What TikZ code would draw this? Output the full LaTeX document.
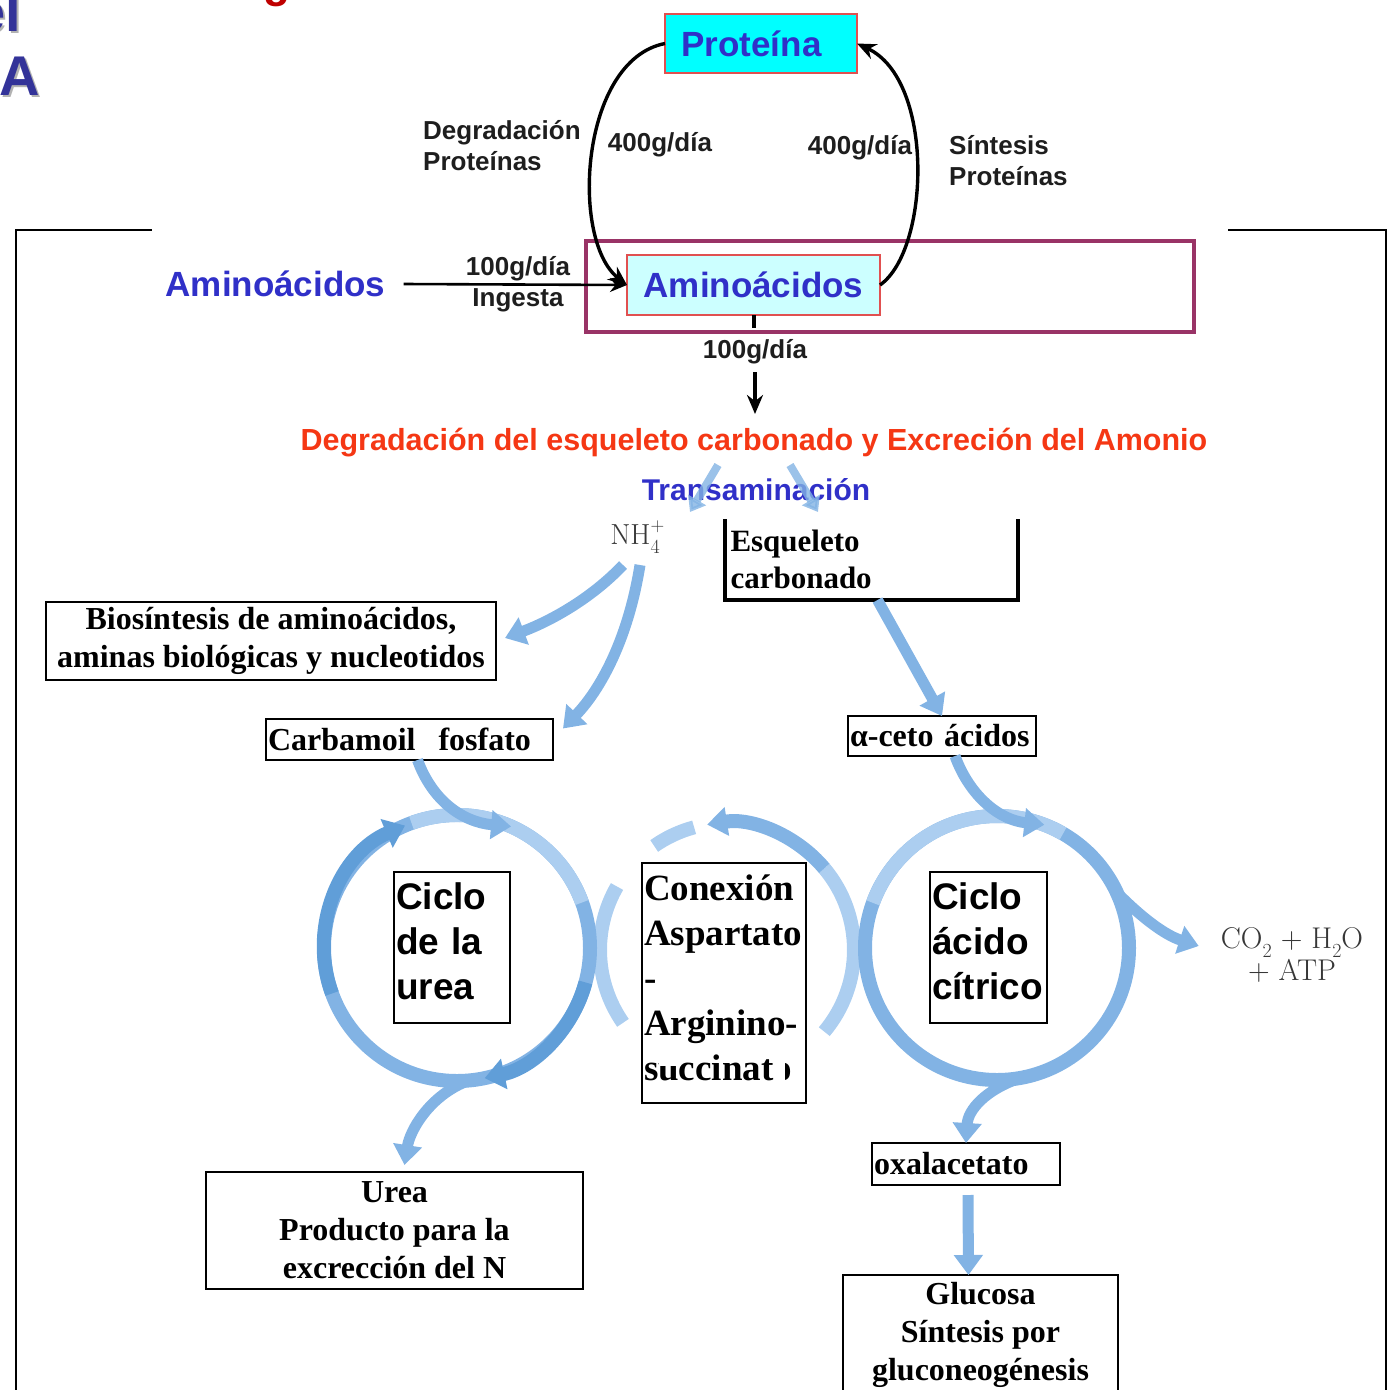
\documentclass[tikz,border=0pt]{standalone}
\usepackage[no-math]{fontspec}
\newfontfamily\arialfont{Liberation Sans}
\newfontfamily\timesfont{Liberation Serif}
\usetikzlibrary{arrows.meta,calc}

\definecolor{titleblue}{RGB}{51,51,153}
\definecolor{labelblue}{RGB}{48,48,200}
\definecolor{headred}{RGB}{245,55,20}
\definecolor{protcyan}{RGB}{0,255,255}
\definecolor{aacyan}{RGB}{204,255,255}
\definecolor{boxred}{RGB}{225,80,80}
\definecolor{frameplum}{RGB}{153,51,102}
\definecolor{flowlight}{RGB}{172,206,240}
\definecolor{flowmid}{RGB}{130,179,228}
\definecolor{flowdark}{RGB}{96,158,216}
\definecolor{labelgray}{RGB}{30,30,30}
\definecolor{chemgray}{RGB}{55,55,55}

\newcommand\chemsub[1]{\raisebox{-0.3em}{\fontsize{20}{20}\selectfont #1}}
\newcommand\chemsup[1]{\raisebox{0.45em}{\fontsize{19}{19}\selectfont #1}}

\begin{document}
\begin{tikzpicture}[x=1pt,y=1pt,
  sanslabel/.style={font=\arialfont\bfseries\fontsize{26}{31}\selectfont, text=labelgray, inner sep=0pt},
  bluelabel/.style={font=\arialfont\bfseries\fontsize{35}{40}\selectfont, text=labelblue, inner sep=0pt},
  blackarrow/.style={line width=3.4pt, -{Stealth[length=19pt,width=16pt]}},
  frameline/.style={line width=1.6pt},
  serifbox/.style={draw=black, line width=1.6pt, inner sep=0pt, outer sep=0pt,
    font=\timesfont\bfseries\fontsize{32}{38}\selectfont},
  sansbox/.style={draw=black, line width=1.6pt, inner sep=0pt, outer sep=0pt,
    font=\arialfont\bfseries\fontsize{37}{45}\selectfont},
  chemlabel/.style={text=chemgray, inner sep=0pt},
  ring/.style={line width=14pt},
  flow/.style={line width=11pt, -{Triangle[width=28pt,length=20pt]}},
  thinflow/.style={line width=8pt, flowmid, opacity=0.8, -{Triangle[width=20pt,length=14pt]}},
]
\useasboundingbox (0,0) rectangle (1389,-1390);
\clip (0,0) rectangle (1389,-1390);

% ---- slide title fragments
\node[font=\arialfont\bfseries\fontsize{56}{60}\selectfont, text=black!30, anchor=base east, inner sep=0pt] (elshadow) at (23,-33) {el};
\node[font=\arialfont\bfseries\fontsize{56}{60}\selectfont, text=titleblue, anchor=base east, inner sep=0pt] (eltitle) at (21,-31) {el};
\node[font=\arialfont\bfseries\fontsize{56}{60}\selectfont, text=black!30, anchor=base west, inner sep=0pt] (Ashadow) at (1,-97) {A};
\node[font=\arialfont\bfseries\fontsize{56}{60}\selectfont, text=titleblue, anchor=base west, inner sep=0pt] (Atitle) at (-1,-95) {A};
\node[font=\arialfont\bfseries\fontsize{44}{50}\selectfont, text=red!75!black, anchor=base west, inner sep=0pt] (gtitle) at (263,3) {g};

% ---- outer frame
\draw[frameline] (16,-1400) -- (16,-230) -- (152,-230);
\draw[frameline] (1228,-230) -- (1386,-230) -- (1386,-1400);

% ---- protein turnover
\node[draw=boxred, line width=1.2pt, fill=protcyan, minimum width=192, minimum height=59, inner sep=0pt, outer sep=0pt] (prot) at (761,-43.5) {};
\node[bluelabel] (protlabel) at (751.5,-44) {Proteína};
\node[draw=boxred, line width=1.2pt, fill=aacyan, minimum width=253, minimum height=60, inner sep=0pt, outer sep=0pt, bluelabel] (aa) at (753.5,-285) {Aminoácidos};
\draw[frameplum, line width=4pt] (586,-241) rectangle (1194,-332);

\draw[blackarrow] (prot.west) .. controls (580,-60) and (570,-240) .. (aa.west);
\draw[blackarrow] (aa.east) .. controls (930,-250) and (935,-80) .. (prot.east);

\node[sanslabel, align=left, anchor=west] (degprot) at (423,-146) {Degradación\\Proteínas};
\node[sanslabel] (rateleft) at (660,-145) {400g/día};
\node[sanslabel] (rateright) at (860,-148) {400g/día};
\node[sanslabel, align=left, anchor=west] (sintprot) at (949,-161) {Síntesis\\Proteínas};

\node[bluelabel] (aaleft) at (275.5,-284) {Aminoácidos};
\draw[line width=2.6pt, -{Stealth[length=17pt,width=14pt]}] ([xshift=18pt]aaleft.east) -- (aa.west);
\node[sanslabel, align=center] (ingesta) at (518,-284) {100g/día\\Ingesta};

\draw[line width=4pt] (aa.south) -- ++(0,-13);
\node[sanslabel] (rateout) at (755,-352) {100g/día};
\coordinate (outtop) at (755,-372);
\coordinate (outbot) at (755,-414);
\draw[blackarrow] (outtop) -- (outbot);

\node[font=\arialfont\bfseries\fontsize{30.5}{36}\selectfont, text=headred, inner sep=0pt] (deg) at (754,-443) {Degradación del esqueleto carbonado y Excreción del Amonio};

\node[font=\arialfont\bfseries\fontsize{30}{36}\selectfont, text=labelblue, inner sep=0pt] (trans) at (756,-490) {Transaminación};
\draw[thinflow] ([shift={(-38,25)}]trans.center) -- ([shift={(-66,-22)}]trans.center);
\draw[thinflow] ([shift={(34,25)}]trans.center) -- ([shift={(62,-22)}]trans.center);

% ---- nitrogen branch
\node[chemlabel, font=\fontsize{29}{34}\selectfont] (nh4) at (635,-537) {NH\makebox[0pt][l]{\chemsup{+}}\chemsub{4}};

\node[anchor=north west, inner sep=0pt, outer sep=0pt, minimum width=293, minimum height=81, text width=288, align=left,
  font=\timesfont\bfseries\fontsize{31}{37}\selectfont] (esq) at (725,-519) {\hspace*{3pt}Esqueleto\\\hspace*{3pt}carbonado};
\draw[line width=4pt] (esq.north west) -- (esq.south west) -- (esq.south east) -- (esq.north east);

\node[serifbox, anchor=north west, minimum width=450, minimum height=78, align=center] (bio) at (46,-602) {Biosíntesis de aminoácidos,\\aminas biológicas y nucleotidos};
\node[serifbox, anchor=north west, minimum height=41, text width=283, inner xsep=2pt, align=left] (carb) at (266,-719) {Carbamoil\hspace{23pt}fosfato};
\node[serifbox, anchor=north west, minimum height=40, text width=184, inner xsep=2pt, align=left] (ceto) at (848,-716) {α-ceto ácidos};

\draw[flow, flowmid] ([shift={(-12,-28)}]nh4.center) .. controls (590,-600) and (548,-622) .. ([xshift=9pt,yshift=3pt]bio.east);
\draw[flow, flowmid] ([shift={(5,-28)}]nh4.center) .. controls (628,-640) and (600,-690) .. ([xshift=10pt,yshift=11pt]carb.east);
\draw[flow, flowmid] ([xshift=6pt]esq.south) -- (ceto.north);

% ---- cycles
\coordinate (ucen) at (457,-948);
\coordinate (ccen) at (997,-948);
\coordinate (mcen) at (727,-950);

% middle ring (partly hidden)
\draw[ring, flowlight] ($(mcen)+(-40:127)$) arc[start angle=-40, end angle=40, radius=127];
\draw[ring, flowlight] ($(mcen)+(150:127)$) arc[start angle=150, end angle=215, radius=127];
\draw[ring, flowlight] ($(mcen)+(125:127)$) arc[start angle=125, end angle=105, radius=127];
\draw[ring, flowmid, -{Triangle[width=28pt,length=20pt]}] ($(mcen)+(40:127)$) arc[start angle=40, end angle=99, radius=127];

% urea cycle ring
\draw[ring, flowmid] (ucen) circle[radius=133];
\draw[ring, flowlight] ($(ucen)+(20:133)$) arc[start angle=20, end angle=110, radius=133];
\draw[ring, flowdark, -{Triangle[width=30pt,length=20pt]}] ($(ucen)+(200:133)$) arc[start angle=200, end angle=113, radius=133];
\draw[ring, flowdark, -{Triangle[width=30pt,length=20pt]}] ($(ucen)+(-15:133)$) arc[start angle=-15, end angle=-78, radius=133];

% citric acid ring
\draw[ring, flowmid] (ccen) circle[radius=132];
\draw[ring, flowlight] ($(ccen)+(60:132)$) arc[start angle=60, end angle=160, radius=132];

% white patch over the middle ring
\fill[white] (724,-955) circle[radius=112];

\node[sansbox, anchor=north west, minimum height=151, text width=112, inner xsep=2pt, align=left] (ureatext) at (394,-872) {Ciclo\\de la\\urea\rule[-12pt]{0pt}{0pt}};
\node[sansbox, anchor=north west, minimum height=151, text width=113, inner xsep=2pt, align=left] (citrtext) at (930,-872) {Ciclo\\ácido\\cítrico\rule[-12pt]{0pt}{0pt}};
\node[draw=black, line width=1.6pt, inner sep=0pt, outer sep=0pt, font=\timesfont\bfseries\fontsize{37}{45}\selectfont,
  anchor=north west, minimum height=240, text width=160, inner xsep=2pt, align=left] (conx) at (642,-863) {Conexión\\Aspartato\\-\\Arginino-\\succinato\rule[-10pt]{0pt}{0pt}};
\fill[white] (659,-1046) rectangle (681,-1066);
\fill[white] (774,-1046) rectangle (785,-1082);

% cycle inputs and outputs
\node[chemlabel, font=\fontsize{30}{30}\selectfont, align=center] (co2) at (1292,-955) {CO\chemsub{2} + H\chemsub{2}O\\+ ATP};
\node[serifbox, anchor=north west, minimum height=42, text width=184, inner xsep=2pt, align=left] (oxa) at (872,-1143) {oxalacetato};
\node[serifbox, anchor=north west, minimum width=377, minimum height=117, align=center] (ureabox) at (206,-1172) {Urea\\Producto para la\\excrección del N};
\node[serifbox, anchor=north west, minimum width=275, minimum height=120, align=center] (glu) at (843,-1275) {Glucosa\\Síntesis por\\gluconeogénesis};

\draw[flow, flowmid] ([xshift=8pt]carb.south) .. controls (432,-800) and (462,-822) .. ($(ucen)+(66:133)$);
\draw[flow, flowmid] ($(ucen)+(-85:133)$) .. controls (430,-1095) and (410,-1130) .. ([xshift=10pt,yshift=7pt]ureabox.north);
\draw[flow, flowmid] ([xshift=13pt]ceto.south) .. controls (970,-797) and (1000,-820) .. ($(ccen)+(69:132)$);
\draw[flow, flowmid] ($(ccen)+(25:132)$) .. controls (1142,-918) and (1165,-935) .. ([xshift=-22pt,yshift=9pt]co2.west);
\draw[flow, flowmid] ($(ccen)+(-80:132)$) .. controls (985,-1090) and (968,-1110) .. (oxa.north);
\draw[flow, flowmid] ([xshift=2pt,yshift=-10pt]oxa.south) -- ([xshift=-12pt]glu.north);
\end{tikzpicture}
\end{document}
